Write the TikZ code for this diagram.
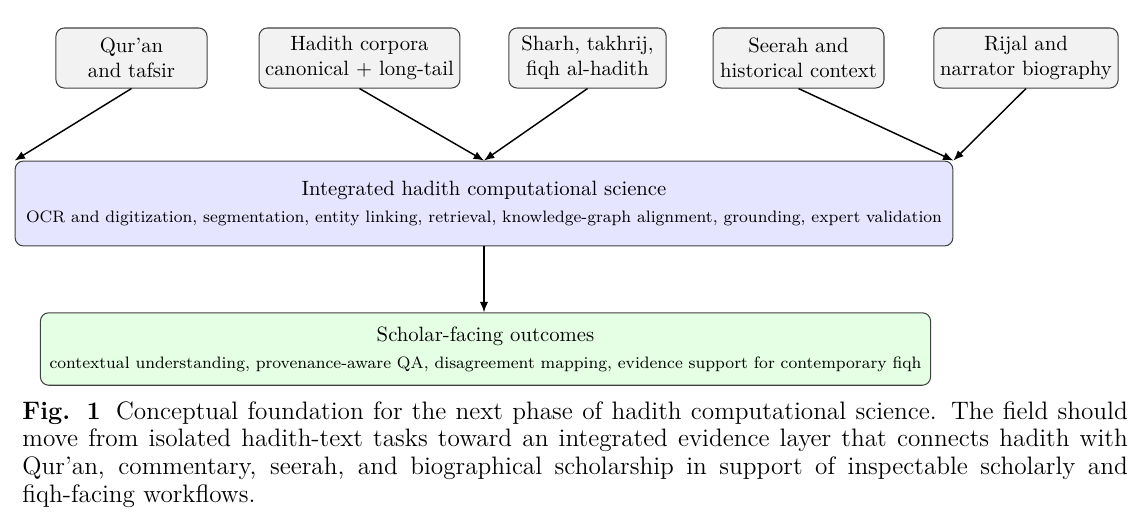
\documentclass[tikz,border=0pt]{standalone}
\usetikzlibrary{arrows.meta}
\begin{document}
\begin{tikzpicture}[x=0.4831pt,y=-0.4831pt,
  src/.style={draw=black!75, fill=black!5, rounded corners=4pt, align=center, minimum height=29pt, inner xsep=2pt, inner ysep=2pt, line width=0.5pt},
  core/.style={draw=black!75, fill=blue!10, rounded corners=4pt, align=center, minimum width=453pt, minimum height=41pt, line width=0.5pt},
  outc/.style={draw=black!75, fill=green!10, rounded corners=4pt, align=center, minimum width=430pt, minimum height=35pt, line width=0.5pt},
  arr/.style={-{Latex[length=5pt,width=4pt]}, line width=0.7pt},
  captext/.style={anchor=north west, align=justify, text width=534pt, inner sep=0pt, font=\fontsize{12.2}{13.4}\selectfont}]
\useasboundingbox (0,0) rectangle (1142,527);
\node[src, minimum width=73pt] (quran) at (131.5,58) {Qur'an\\and tafsir};
\node[src, minimum width=97pt] (hadith) at (359.5,58) {Hadith corpora\\canonical + long-tail};
\node[src, minimum width=76pt] (sharh) at (587.5,58) {Sharh, takhrij,\\fiqh al-hadith};
\node[src, minimum width=82.6pt] (seerah) at (798.5,58) {Seerah and\\historical context};
\node[src, minimum width=89pt] (rijal) at (1026,58) {Rijal and\\narrator biography};
\node[core] (core) at (484,203.5) {Integrated hadith computational science\\[1pt]{\footnotesize OCR and digitization, segmentation, entity linking, retrieval, knowledge-graph alignment, grounding, expert validation}};
\node[outc] (out) at (485.5,349) {Scholar-facing outcomes\\[1pt]{\footnotesize contextual understanding, provenance-aware QA, disagreement mapping, evidence support for contemporary fiqh}};
\draw[arr] (quran.south) -- (core.north west);
\draw[arr] (hadith.south) -- (core.north);
\draw[arr] (sharh.south) -- (core.north);
\draw[arr] (seerah.south) -- (core.north east);
\draw[arr] (rijal.south) -- (core.north east);
\draw[arr] (core.south) -- (core.south |- out.north);
\node[captext] (caption) at (22,401) {\textbf{Fig. 1}\hspace{0.6em}Conceptual foundation for the next phase of hadith computational science. The field should move from isolated hadith-text tasks toward an integrated evidence layer that connects hadith with Qur'an, commentary, seerah, and biographical scholarship in support of inspectable scholarly and \mbox{fiqh-facing} workflows.};
\end{tikzpicture}
\end{document}
